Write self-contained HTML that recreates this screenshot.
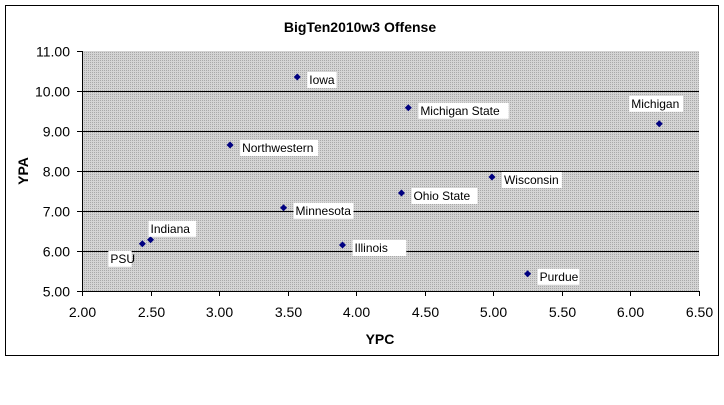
<!DOCTYPE html>
<html><head><meta charset="utf-8"><style>
body{margin:0;background:#fff;width:724px;height:400px;overflow:hidden}
svg text{font-family:"Liberation Sans",Arial,sans-serif}
</style></head><body>
<svg id="chart" width="724" height="400" xmlns="http://www.w3.org/2000/svg">
<defs><pattern id="dots" width="2" height="2" patternUnits="userSpaceOnUse"><rect width="2" height="2" fill="#d4d4d4"/><rect width="1" height="1" fill="#a8a8a8"/></pattern></defs>
<rect x="5.5" y="5.5" width="713" height="350" fill="#fff" stroke="#000"/>
<text x="360" y="32" font-size="14" font-weight="bold" text-anchor="middle">BigTen2010w3 Offense</text>
<rect x="82" y="51" width="617" height="240" fill="url(#dots)"/>
<g id="grid"></g><g id="axes"></g><g id="marks"></g>
<text x="380" y="344" font-size="14" font-weight="bold" text-anchor="middle">YPC</text>
<text x="28" y="171" font-size="14" font-weight="bold" text-anchor="middle" transform="rotate(-90 28 171)">YPA</text>
</svg>
<script>
const teams=["Iowa","Michigan State","Michigan","Northwestern","Wisconsin","Ohio State","Minnesota","Indiana","PSU","Illinois","Purdue"];
const ypc=[3.57,4.38,6.21,3.08,4.99,4.33,3.47,2.50,2.44,3.90,5.25];
const ypa=[10.35,9.58,9.18,8.65,7.85,7.45,7.08,6.28,6.18,6.15,5.43];
const xTicks=[2.0,2.5,3.0,3.5,4.0,4.5,5.0,5.5,6.0,6.5];
const yTicks=[5,6,7,8,9,10,11];
const NS="http://www.w3.org/2000/svg";
const X=v=>82+(v-2)/4.5*617, Y=v=>291-(v-5)/6*240;
function mk(t,a,p){const e=document.createElementNS(NS,t);for(const k in a)e.setAttribute(k,a[k]);p.appendChild(e);return e;}
const grid=document.getElementById('grid'),axes=document.getElementById('axes'),marks=document.getElementById('marks');
yTicks.forEach(v=>{const y=Math.round(Y(v))+0.5;
 if(v>5&&v<11){const l=mk('line',{x1:82,x2:699,y1:y,y2:y,stroke:'#000'},grid);}
 mk('line',{x1:77,x2:82,y1:y,y2:y,stroke:'#000'},axes);
 const t=mk('text',{x:70,y:y+5,'font-size':14,'text-anchor':'end'},axes);t.textContent=v.toFixed(2);
 
 });
xTicks.forEach(v=>{const x=Math.round(X(v))+0.5;
 mk('line',{x1:x,x2:x,y1:291,y2:296,stroke:'#000'},axes);
 const t=mk('text',{x:x,y:317,'font-size':14,'text-anchor':'middle'},axes);t.textContent=v.toFixed(2);
 
 });
mk('line',{x1:82.5,x2:82.5,y1:51,y2:291,stroke:'#000'},axes);
mk('line',{x1:82,x2:699,y1:291.5,y2:291.5,stroke:'#000'},axes);
const off={"PSU":[-32,19],"Michigan":[-28,-16],"Indiana":[0,-7]};
teams.forEach((n,i)=>{const cx=X(ypc[i]),cy=Y(ypa[i]);
 const d=mk('path',{d:`M${cx} ${cy-3.5}L${cx+3.5} ${cy}L${cx} ${cy+3.5}L${cx-3.5} ${cy}Z`,fill:'#000080'},marks);
 
 
 const o=off[n]||[12,7];const tx=cx+o[0],ty=cy+o[1];
 const w=n.length*6.1+5;
 const bg=mk('rect',{x:tx-2,y:ty-12,width:w,height:16,fill:'#fff'},marks);
 
 
 const t=mk('text',{x:tx,y:ty,'font-size':12},marks);t.textContent=n;
 
 });
</script>
</body></html>
